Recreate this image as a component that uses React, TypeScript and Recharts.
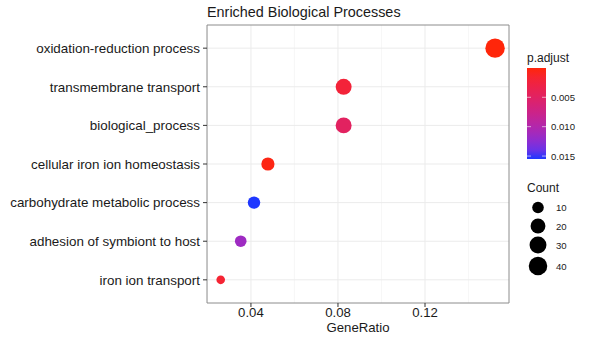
import React from "react";
import {
  ScatterChart,
  Scatter,
  XAxis,
  YAxis,
  CartesianGrid,
  ReferenceArea,
} from "recharts";

// bottom -> top, as in the dot plot
const terms = [
  "iron ion transport",
  "adhesion of symbiont to host",
  "carbohydrate metabolic process",
  "cellular iron ion homeostasis",
  "biological_process",
  "transmembrane transport",
  "oxidation-reduction process",
];
const geneRatio = [0.0261, 0.0353, 0.0414, 0.0478, 0.0826, 0.0826, 0.1522];
const counts = [7, 10, 12, 14, 25, 25, 46];
const pAdjust = [0.0018, 0.0115, 0.0155, 0.0003, 0.0048, 0.0022, 0.00002];

const xTicks = [0.04, 0.08, 0.12];
const xMinor = [0.02, 0.06, 0.1, 0.14];
const colorTicks = [0.005, 0.01, 0.015];
const sizeTicks = [10, 20, 30, 40];

const FONT = "'Liberation Sans', Arial, Helvetica, sans-serif";

const rows = terms.map((t, i) => ({
  term: t,
  y: i + 1,
  ratio: geneRatio[i],
  count: counts[i],
  p: pAdjust[i],
}));

const pMin = Math.min(...pAdjust);
const pMax = Math.max(...pAdjust);
const cMin = Math.min(...counts);
const cMax = Math.max(...counts);

// ggplot-like area scale: radius grows with sqrt of the rescaled count
function radius(c: number) {
  const t = Math.max(0, (c - cMin) / (cMax - cMin));
  return 4.3 + 5.4 * Math.sqrt(t);
}

// red -> blue through Lab, like scale_color_gradient
function toLab(rgb: number[]) {
  const lin = (v: number) => {
    v /= 255;
    return v <= 0.04045 ? v / 12.92 : Math.pow((v + 0.055) / 1.055, 2.4);
  };
  const [r, g, b] = rgb.map(lin);
  const X = (0.4124 * r + 0.3576 * g + 0.1805 * b) / 0.95047;
  const Y = 0.2126 * r + 0.7152 * g + 0.0722 * b;
  const Z = (0.0193 * r + 0.1192 * g + 0.9505 * b) / 1.08883;
  const f = (t: number) => (t > 0.008856 ? Math.cbrt(t) : 7.787 * t + 16 / 116);
  const fx = f(X), fy = f(Y), fz = f(Z);
  return [116 * fy - 16, 500 * (fx - fy), 200 * (fy - fz)];
}
function fromLab([L, a, bb]: number[]) {
  const fy = (L + 16) / 116;
  const fx = fy + a / 500;
  const fz = fy - bb / 200;
  const inv = (t: number) => (t * t * t > 0.008856 ? t * t * t : (t - 16 / 116) / 7.787);
  const X = inv(fx) * 0.95047, Y = inv(fy), Z = inv(fz) * 1.08883;
  const r = 3.2406 * X - 1.5372 * Y - 0.4986 * Z;
  const g = -0.9689 * X + 1.8758 * Y + 0.0415 * Z;
  const b = 0.0557 * X - 0.204 * Y + 1.057 * Z;
  const gam = (v: number) => {
    const s = v <= 0.0031308 ? 12.92 * v : 1.055 * Math.pow(v, 1 / 2.4) - 0.055;
    return Math.round(Math.min(1, Math.max(0, s)) * 255);
  };
  return `rgb(${gam(r)},${gam(g)},${gam(b)})`;
}
const labLow = toLab([255, 38, 10]);
const labHigh = toLab([30, 55, 255]);
function colorAt(t: number) {
  return fromLab(labLow.map((v, i) => v + (labHigh[i] - v) * t));
}
function pColor(p: number) {
  return colorAt((p - pMin) / (pMax - pMin));
}

function Dot(props: any) {
  const { cx, cy, payload } = props;
  if (cx == null || cy == null) return null;
  return <circle cx={cx} cy={cy} r={radius(payload.count)} fill={pColor(payload.p)} />;
}

const barTop = 68;
const barH = 91;
const barX = 527;
const barW = 19;

function Legends() {
  const stops = Array.from({ length: 11 }, (_, i) => i / 10);
  return (
    <svg
      width={592}
      height={337}
      style={{ position: "absolute", left: 0, top: 0, pointerEvents: "none" }}
      fontFamily={FONT}
    >
      <text x={207} y={17} fontSize={14.4} fill="#1a1a1a">
        Enriched Biological Processes
      </text>

      <text x={527} y={62} fontSize={12} fill="#1a1a1a">p.adjust</text>
      <defs>
        <linearGradient id="pgrad" x1="0" y1="0" x2="0" y2="1">
          {stops.map((s) => (
            <stop key={s} offset={`${s * 100}%`} stopColor={colorAt(s)} />
          ))}
        </linearGradient>
      </defs>
      <rect x={barX} y={barTop} width={barW} height={barH} fill="url(#pgrad)" />
      {colorTicks.map((v) => {
        const y = barTop + ((v - pMin) / (pMax - pMin)) * barH;
        return (
          <g key={v}>
            <line x1={barX} x2={barX + 4} y1={y} y2={y} stroke="#fff" strokeOpacity={0.6} />
            <line x1={barX + barW - 4} x2={barX + barW} y1={y} y2={y} stroke="#fff" strokeOpacity={0.6} />
            <text x={551} y={y + 3.5} fontSize={9.6} fill="#1a1a1a">
              {v.toFixed(3)}
            </text>
          </g>
        );
      })}

      <text x={527} y={192} fontSize={12} fill="#1a1a1a">Count</text>
      {sizeTicks.map((c, i) => {
        const y = [207.5, 226, 245, 266][i];
        return (
          <g key={c}>
            <circle cx={538} cy={y} r={radius(c)} fill="#000" />
            <text x={556} y={y + 3.5} fontSize={9.6} fill="#1a1a1a">{c}</text>
          </g>
        );
      })}
    </svg>
  );
}

export default function App() {
  return (
    <div style={{ position: "absolute", left: 0, top: 0, width: 592, height: 337, background: "#fff" }}>
      <ScatterChart
        width={592}
        height={337}
        margin={{ top: 25, right: 83, bottom: 0, left: 0 }}
        style={{ fontFamily: FONT }}
      >
        <CartesianGrid
          horizontal={false}
          verticalValues={xMinor}
          stroke="#f2f2f2"
          strokeWidth={0.6}
        />
        <CartesianGrid
          verticalValues={xTicks}
          horizontalValues={[1, 2, 3, 4, 5, 6, 7]}
          stroke="#ebebeb"
          strokeWidth={1}
        />
        <XAxis
          type="number"
          dataKey="ratio"
          domain={[0.0198, 0.1586]}
          ticks={xTicks}
          tickFormatter={(v: number) => v.toFixed(2)}
          axisLine={false}
          tickLine={{ stroke: "#333" }}
          tickSize={4}
          tickMargin={1}
          height={34}
          tick={{ fill: "#1a1a1a", fontSize: 13.2 }}
          label={{ value: "GeneRatio", position: "insideBottom", offset: 5, fill: "#1a1a1a", fontSize: 13.2 }}
          allowDataOverflow
        />
        <YAxis
          type="number"
          dataKey="y"
          domain={[0.4, 7.6]}
          ticks={[1, 2, 3, 4, 5, 6, 7]}
          tickFormatter={(v: number) => terms[v - 1] ?? ""}
          axisLine={false}
          tickLine={{ stroke: "#333" }}
          tickSize={4}
          tickMargin={3}
          width={207}
          tick={{ fill: "#1a1a1a", fontSize: 13.4 }}
          interval={0}
        />
        <ReferenceArea
          x1={0.0198}
          x2={0.1586}
          y1={0.4}
          y2={7.6}
          fill="none"
          stroke="#8c8c8c"
          strokeWidth={1}
          ifOverflow="visible"
        />
        <Scatter data={rows} shape={<Dot />} isAnimationActive={false} />
      </ScatterChart>
      <Legends />
    </div>
  );
}
